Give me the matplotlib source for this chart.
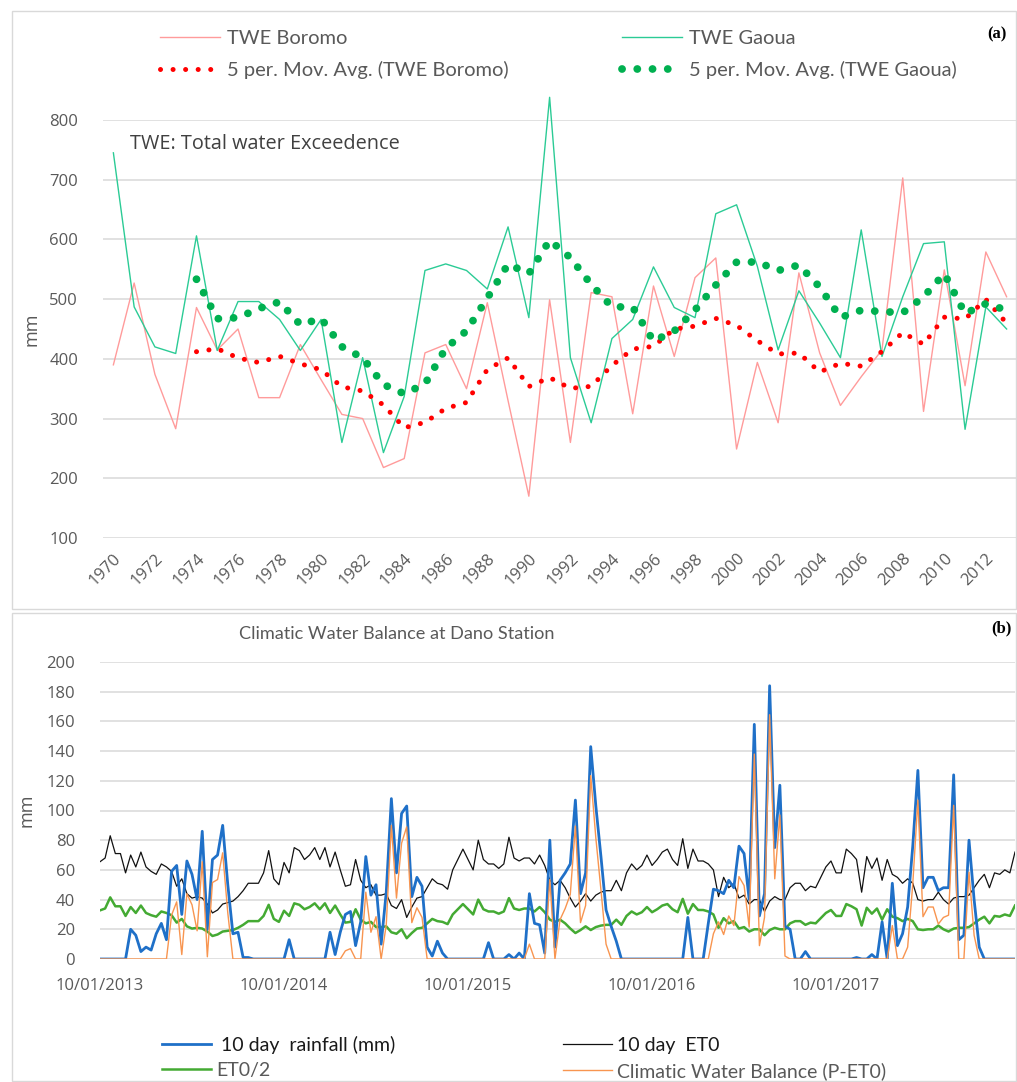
import numpy as np
import pandas as pd
import matplotlib
matplotlib.use("Agg")
import matplotlib.pyplot as plt
from matplotlib.patches import Rectangle

# ---------------- data: panel (a) ----------------
years = list(range(1970, 2014))
twe_boromo = [390, 527, 374, 283, 486, 415, 450, 335, 335, 424,
              365, 307, 300, 218, 233, 410, 424, 350, 494, 330,
              170, 499, 260, 511, 504, 308, 522, 404, 536, 569,
              249, 394, 293, 544, 410, 322, 370, 415, 703, 312,
              549, 355, 579, 504]
twe_gaoua = [745, 487, 420, 409, 606, 414, 496, 496, 466, 414,
             466, 260, 402, 243, 337, 548, 559, 548, 517, 621,
             469, 838, 402, 293, 434, 466, 554, 486, 469, 643,
             658, 555, 415, 514, 460, 402, 616, 404, 504, 593,
             596, 282, 487, 450]
year_ticks = list(range(1970, 2013, 2))
yticks_a = list(range(100, 801, 100))

# ---------------- data: panel (b) (10-day steps, 2013-2017) ----------------
rain_10day = [0, 0, 0, 0, 0, 0,
              20, 16, 5, 8, 6, 17, 24, 13,
              59, 63, 30, 66, 57, 40, 86, 20,
              67, 70, 90, 50, 17, 18, 1, 1,
              0, 0, 0, 0, 0, 0, 0, 13,
              0, 0, 0, 0, 0, 0, 0, 18,
              3, 18, 30, 32, 9, 25, 69, 43,
              50, 10, 45, 108, 58, 98, 103, 42,
              55, 49, 8, 2, 12, 4, 0, 0,
              0, 0, 0, 0, 0, 0, 11, 0,
              0, 0, 3, 0, 4, 0, 44, 24,
              23, 4, 80, 8, 53, 58, 64, 107,
              44, 58, 143, 103, 69, 33, 22, 12,
              0, 0, 0, 0, 0, 0, 0, 0,
              0, 0, 0, 0, 0, 28, 0, 0,
              0, 24, 47, 46, 44, 53, 48, 76,
              71, 40, 158, 29, 44, 184, 75, 117,
              22, 20, 0, 0, 5, 0, 0, 0,
              0, 0, 0, 0, 0, 0, 1, 0,
              0, 3, 0, 25, 0, 51, 9, 17,
              35, 76, 127, 48, 55, 55, 46, 48,
              48, 124, 13, 16, 80, 40, 8, 0,
              0, 0, 0, 0, 0, 0]
et0_10day = [65.5, 68, 83, 71, 71, 58, 70, 62, 72, 62,
             59, 57, 64, 62, 59, 49, 54, 44, 41, 42,
             41, 37, 31, 33, 37, 38, 39, 42, 46, 51,
             51, 51, 58, 73, 54, 50, 65, 58, 75, 73,
             67, 70, 75, 67, 75, 62, 72, 60, 49, 50,
             67, 53, 48, 50, 43,
             43, 44, 36, 34, 40, 28, 35, 41, 42, 48,
             54, 51, 50, 47, 60, 67, 74, 67, 60, 80,
             67, 64, 64, 61, 64, 82, 68, 66, 68, 68,
             64, 70, 63, 53, 50, 53, 48, 41, 35, 39,
             44, 39, 43, 45, 46, 46, 53, 46, 58, 64,
             60, 63, 70, 63, 67, 72, 74, 67, 63, 81,
             61, 74,
             66, 66, 64, 60, 42, 55, 48, 51, 41, 43,
             37, 40, 40, 32, 39, 42, 40, 40, 48, 51,
             51, 46, 49, 48, 55, 62, 66, 58, 58, 74,
             71, 67, 45, 69, 61, 68, 53, 67, 57, 55,
             51, 54, 51, 40, 39, 40, 40, 45, 40, 37,
             41, 42, 42, 43, 48, 53, 57, 48, 58, 57,
             60, 58, 72]
date_labels = ["10/01/2013", "10/01/2014", "10/01/2015", "10/01/2016", "10/01/2017"]
date_label_pos = [0, 36, 72, 108, 144]
yticks_b = list(range(0, 201, 20))

# derived series (as defined in the chart)
ma_boromo = pd.Series(twe_boromo, index=years).rolling(5).mean()
ma_gaoua = pd.Series(twe_gaoua, index=years).rolling(5).mean()
rain = np.array(rain_10day, dtype=float)
et0 = np.array(et0_10day, dtype=float)
et0_half = et0 / 2.0
cwb = np.clip(rain - et0_half, 0, None)
idx = np.arange(len(rain))

# ---------------- figure ----------------
plt.rcParams['font.family'] = ['Open Sans', 'DejaVu Sans']
W, H = 1017, 1082
fig = plt.figure(figsize=(W / 100, H / 100), dpi=100)

def fx(px):
    return px / W

def fy(py):
    return 1 - py / H

grid_c = "#D9D9D9"
tick_c = "#595959"
LEGFONT = ['Lato', 'DejaVu Sans']

# panel borders
fig.add_artist(Rectangle((fx(12), fy(609)), fx(1016) - fx(12), (609 - 11) / H,
                         transform=fig.transFigure, fill=False, ec=grid_c, lw=1.0))
fig.add_artist(Rectangle((fx(12), fy(1081)), fx(1016) - fx(12), (1081 - 613) / H,
                         transform=fig.transFigure, fill=False, ec=grid_c, lw=1.0))

# ---- panel (a)
ax1 = fig.add_axes([fx(103), fy(538), (1017 - 103) / W, (538 - 120) / H])
ax1.set_xlim(1969.5, 2013.5)
ax1.set_ylim(100, 800)
ax1.set_yticks(yticks_a)
ax1.set_xticks(year_ticks)
ax1.set_xticklabels([str(y) for y in year_ticks], rotation=45, ha='right',
                    rotation_mode='anchor')
for s in ax1.spines.values():
    s.set_visible(False)
ax1.yaxis.grid(True, color=grid_c, lw=1.1)
ax1.set_axisbelow(True)
ax1.tick_params(axis='both', length=0, labelsize=12, labelcolor=tick_c)
ax1.tick_params(axis='y', pad=18)
ax1.tick_params(axis='x', pad=9)
ax1.set_ylabel("mm", fontsize=13, color=tick_c, labelpad=6)

l1, = ax1.plot(years, twe_boromo, color="#FF9B9B", lw=1.0, label="TWE Boromo")
l2, = ax1.plot(years, twe_gaoua, color="#2BCB95", lw=1.0, label="TWE Gaoua",
               clip_on=False)
l3, = ax1.plot(ma_boromo.index, ma_boromo.values, color="#FF0000", lw=3.6,
               linestyle=(0, (0.01, 2.5)), dash_capstyle='round',
               label="5 per. Mov. Avg. (TWE Boromo)")
l4, = ax1.plot(ma_gaoua.index, ma_gaoua.values, color="#00B050", lw=5.6,
               linestyle=(0, (0.01, 1.95)), dash_capstyle='round',
               label="5 per. Mov. Avg. (TWE Gaoua)")
fig.text(fx(130), fy(144), "TWE: Total water Exceedence",
         fontsize=14.3, color="#404040", va='center', ha='left')

leg1 = fig.legend(handles=[l1, l3, l2, l4], ncol=2, frameon=False,
                  loc='upper left', bbox_to_anchor=(fx(150), fy(20)),
                  bbox_transform=fig.transFigure,
                  prop={'family': LEGFONT, 'size': 14.5},
                  handlelength=3.0, handletextpad=0.34, columnspacing=5.6,
                  labelspacing=0.7, borderpad=0)
for t in leg1.get_texts():
    t.set_color(tick_c)
fig.text(fx(1007), fy(34), "(a)", fontsize=12, fontweight='bold',
         family='Liberation Serif', ha='right', va='center', color="black")

# ---- panel (b)
ax2 = fig.add_axes([fx(100), fy(959), (1015 - 100) / W, (959 - 662) / H])
ax2.set_xlim(0, len(rain) - 1)
ax2.set_ylim(0, 200)
ax2.set_yticks(yticks_b)
ax2.set_xticks(date_label_pos)
ax2.set_xticklabels(date_labels)
for s in ax2.spines.values():
    s.set_visible(False)
ax2.yaxis.grid(True, color=grid_c, lw=1.1)
ax2.set_axisbelow(True)
ax2.tick_params(axis='both', length=0, labelsize=12, labelcolor=tick_c)
ax2.tick_params(axis='y', pad=18)
ax2.tick_params(axis='x', pad=14)
ax2.set_ylabel("mm", fontsize=13, color=tick_c, labelpad=8)

b_et0, = ax2.plot(idx, et0, color="#111111", lw=0.9, label="10 day  ET0")
b_half, = ax2.plot(idx, et0_half, color="#44AA33", lw=1.8, label="ET0/2")
b_rain, = ax2.plot(idx, rain, color="#1F70C8", lw=2.0, label=" 10 day  rainfall (mm)")
b_cwb, = ax2.plot(idx, cwb, color="#F89550", lw=1.0, label="Climatic Water Balance (P-ET0)")

fig.text(fx(397), fy(634), "Climatic Water Balance at Dano Station",
         family=LEGFONT, fontsize=13.1, color=tick_c, ha='center', va='center')
fig.text(fx(1012), fy(628), "(b)", fontsize=12, fontweight='bold',
         family='Liberation Serif', ha='right', va='center', color="black")

leg2 = fig.legend(handles=[b_rain, b_half, b_et0, b_cwb], ncol=2, frameon=False,
                  loc='upper left', bbox_to_anchor=(fx(152), fy(1026)),
                  bbox_transform=fig.transFigure,
                  prop={'family': LEGFONT, 'size': 14},
                  handlelength=2.55, handletextpad=0.26, columnspacing=8.6,
                  labelspacing=0.42, borderpad=0)
leg_cols = ["#1a1a1a", tick_c, "#1a1a1a", tick_c]
for t, c in zip(leg2.get_texts(), leg_cols):
    t.set_color(c)

fig.savefig("out.png", dpi=100)
